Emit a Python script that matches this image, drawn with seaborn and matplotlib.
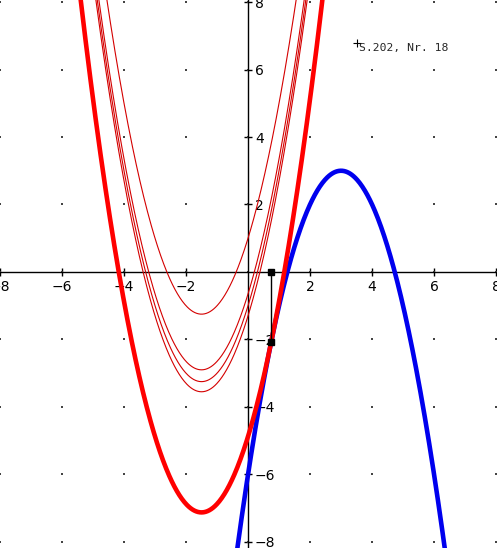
import numpy as np
import pandas as pd
import matplotlib
matplotlib.use('Agg')
import matplotlib.pyplot as plt
import seaborn as sns

# blue parabola: y = -(x - 3)^2 + 3
blue_vertex = (3, 3)
blue_a = -1.0

# red family: y = x^2 + 3x + c
red_b = 3.0
red_c_thin = [1.0, -0.65, -1.0, -1.3]
red_c_touch = -4.875          # touching parabola
touch_x = 0.75                # touching point

ticks = [-8, -6, -4, -2, 2, 4, 6, 8]
grid_pts = [-8, -6, -4, -2, 0, 2, 4, 6, 8]
label_text = 'S.202, Nr. 18'
label_pos = (3.52, 6.78)

sns.set_style('white')

fig = plt.figure(figsize=(4.97, 5.48), dpi=100)
ax = fig.add_axes([0, 0, 1, 1])

xs = np.linspace(-8, 8.1, 800)
frames = []
for i, c in enumerate(red_c_thin):
    frames.append(pd.DataFrame({'x': xs, 'y': xs ** 2 + red_b * xs + c, 'curve': f'thin{i}'}))
thin = pd.concat(frames)
blue = pd.DataFrame({'x': xs, 'y': blue_a * (xs - blue_vertex[0]) ** 2 + blue_vertex[1]})
red = pd.DataFrame({'x': xs, 'y': xs ** 2 + red_b * xs + red_c_touch})

# dot grid
gx, gy = np.meshgrid(grid_pts, grid_pts)
ax.scatter(gx.ravel(), gy.ravel(), s=1.0, color='#444444', marker='s', linewidths=0, zorder=1)

sns.lineplot(data=thin, x='x', y='y', units='curve', estimator=None, color='#d40000',
             linewidth=0.8, ax=ax, zorder=3)
sns.lineplot(data=blue, x='x', y='y', color='#0000ee', linewidth=3.3, ax=ax, zorder=4)
sns.lineplot(data=red, x='x', y='y', color='#ff0000', linewidth=3.3, ax=ax, zorder=5)

# touching point with vertical segment
touch_y = blue_a * (touch_x - blue_vertex[0]) ** 2 + blue_vertex[1]
ax.plot([touch_x, touch_x], [0, touch_y], color='black', linewidth=1.0,
        marker='s', markersize=4, zorder=6)

ax.plot(label_pos[0], label_pos[1], marker='+', color='black', markersize=6, mew=0.8)
ax.text(label_pos[0] + 0.05, label_pos[1] + 0.02, label_text, family='DejaVu Sans Mono',
        fontsize=8.2, va='top', ha='left')

ax.set_xlim(-8, 8.03)
ax.set_ylim(-8.18, 8.06)
ax.set_xlabel('')
ax.set_ylabel('')

# axes through origin
ax.spines['top'].set_visible(False)
ax.spines['left'].set_visible(False)
ax.spines['bottom'].set_position('zero')
ax.spines['right'].set_position('zero')
for s in ['bottom', 'right']:
    ax.spines[s].set_color('black')
    ax.spines[s].set_linewidth(1.0)
    ax.spines[s].set_zorder(2)
ax.xaxis.set_ticks_position('bottom')
ax.yaxis.set_ticks_position('right')
ax.set_xticks(ticks)
ax.set_yticks(ticks)
ax.tick_params(direction='inout', length=6, width=1, labelsize=10, colors='black')
ax.tick_params(axis='x', pad=3)
ax.tick_params(axis='y', pad=2)

fig.savefig('out.png', dpi=100)
